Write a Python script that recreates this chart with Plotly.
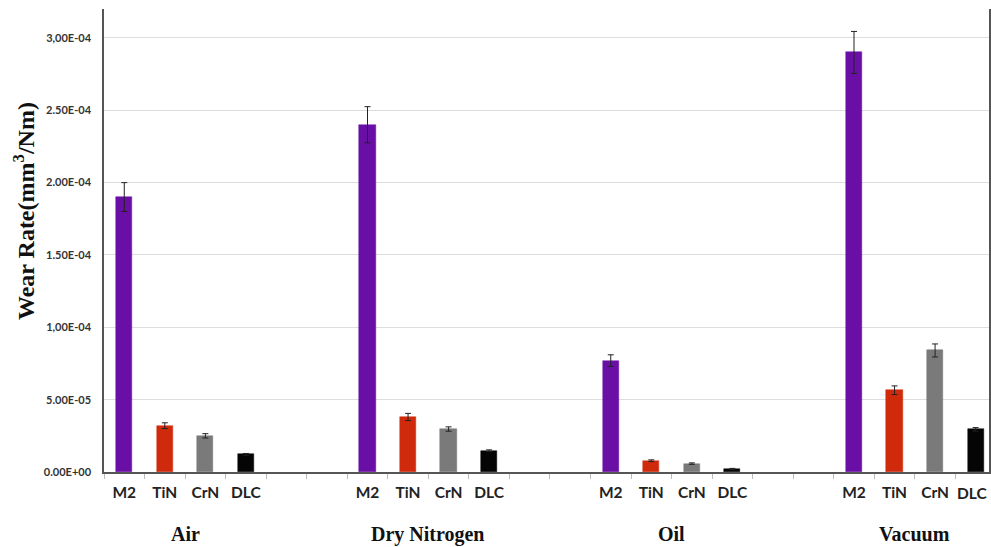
import plotly.graph_objects as go

coatings = ["M2", "TiN", "CrN", "DLC"]
environments = ["Air", "Dry Nitrogen", "Oil", "Vacuum"]
colors = ["#6A0FA6", "#D02A0C", "#7A7A7A", "#050505"]

# wear rate per environment for M2, TiN, CrN, DLC
wear_air = [1.90e-4, 3.20e-5, 2.50e-5, 1.22e-5]
wear_n2 = [2.40e-4, 3.80e-5, 2.97e-5, 1.47e-5]
wear_oil = [7.70e-5, 7.8e-6, 5.8e-6, 2.1e-6]
wear_vac = [2.90e-4, 5.65e-5, 8.40e-5, 2.95e-5]

err_air = [1.0e-5, 2.0e-6, 1.5e-6, 6e-7]
err_n2 = [1.25e-5, 2.5e-6, 1.5e-6, 6e-7]
err_oil = [4.0e-6, 6e-7, 5e-7, 4e-7]
err_vac = [1.45e-5, 3.0e-6, 4.5e-6, 1.2e-6]

ytick_vals = [0, 5e-5, 1e-4, 1.5e-4, 2e-4, 2.5e-4, 3e-4]
ytick_text = ["0.00E+00", "5.00E-05", "1,00E-04", "1.50E-04", "2.00E-04", "2.50E-04", "3,00E-04"]

all_wear = [wear_air, wear_n2, wear_oil, wear_vac]
all_err = [err_air, err_n2, err_oil, err_vac]

group_step = 6  # 4 bars + 2 empty slots
fig = go.Figure()
for ci, coat in enumerate(coatings):
    xs = [g * group_step + ci for g in range(len(environments))]
    ys = [all_wear[g][ci] for g in range(len(environments))]
    es = [all_err[g][ci] for g in range(len(environments))]
    fig.add_trace(go.Bar(
        x=xs, y=ys, width=0.4, name=coat,
        marker=dict(color=colors[ci], line=dict(color=colors[ci], width=0.5)),
        error_y=dict(type="data", array=es, visible=True, color="#222222",
                     thickness=1, width=3),
        showlegend=False,
    ))

tickvals = []
ticktext = []
for g in range(len(environments)):
    for ci, coat in enumerate(coatings):
        tickvals.append(g * group_step + ci)
        ticktext.append("<b>%s</b>" % coat)
# the last label sits against the right edge; it is drawn as an annotation
last_label = ticktext[-1]
ticktext[-1] = ""

W, H = 991, 547
top, bottom_axis, left = 9, 472, 104
plot_h = bottom_axis - top
tick_font = dict(family="Lato", size=15.5, color="#222222")
fig.update_layout(
    width=W, height=H,
    margin=dict(l=left, r=0, t=top, b=H - bottom_axis),
    paper_bgcolor="white", plot_bgcolor="white",
    bargap=0,
    xaxis=dict(
        range=[-0.5, 21.33],
        tickvals=tickvals, ticktext=ticktext,
        ticks="", showgrid=False, zeroline=False,
        showline=True, linecolor="#555555", linewidth=1.5,
        tickfont=tick_font,
        ticklabelstandoff=6,
        minor=dict(tick0=-0.5, dtick=1, ticks="outside", ticklen=5,
                   tickcolor="#bbbbbb", showgrid=False),
    ),
    yaxis=dict(
        range=[0, 3.2e-4],
        tickvals=ytick_vals, ticktext=["<b>%s</b>" % t for t in ytick_text],
        showgrid=True, gridcolor="#dddddd", gridwidth=1,
        zeroline=False, showline=True, linecolor="#555555", linewidth=1.5,
        mirror=True, ticks="",
        tickfont=dict(family="Lato", size=11, color="#333333"),
        ticklabelstandoff=9,
    ),
)

fig.add_annotation(
    x=1, xref="paper", xanchor="right",
    y=-(493 - 472) / plot_h, yref="paper", yanchor="middle",
    text=last_label, showarrow=False, font=tick_font,
)

for g, env in enumerate(environments):
    fig.add_annotation(
        x=g * group_step + 1.5, xref="x",
        y=-(534 - 472) / plot_h, yref="paper",
        text="<b>%s</b>" % env, showarrow=False,
        font=dict(family="Liberation Serif", size=20, color="#111111"),
        xanchor="center", yanchor="middle",
    )

fig.add_annotation(
    x=0, xref="paper", xshift=-80,
    y=(472 - 211) / plot_h, yref="paper",
    text="<b>Wear Rate(mm<sup>3</sup>/Nm)</b>", textangle=-90, showarrow=False,
    font=dict(family="Liberation Serif", size=24, color="#111111"),
    xanchor="center", yanchor="middle",
)

fig.write_html(
    "out.html",
    config={"displayModeBar": False},
    post_script="document.body.style.margin='0px';"
                "document.body.style.overflow='hidden';"
                "document.documentElement.style.overflow='hidden';",
)
